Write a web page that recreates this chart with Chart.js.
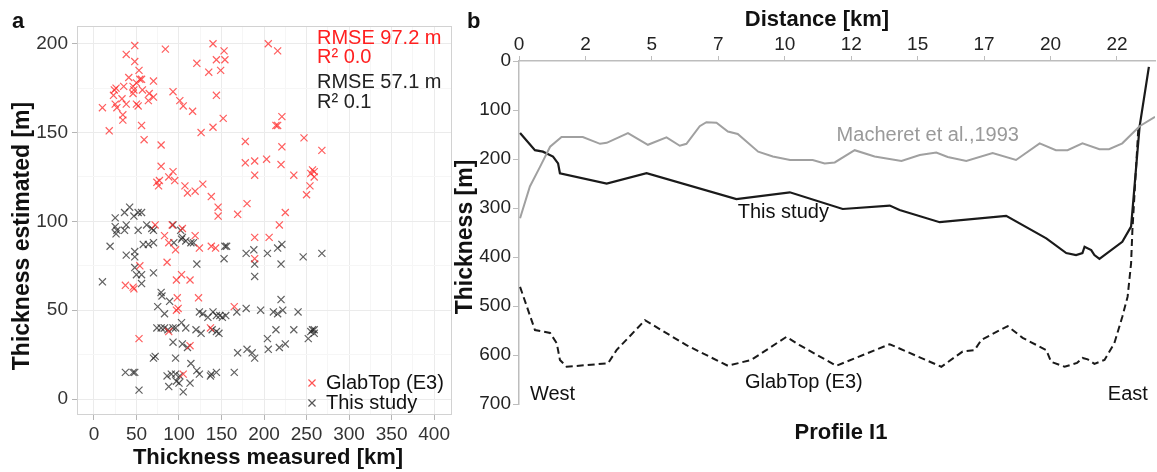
<!DOCTYPE html>
<html>
<head>
<meta charset="utf-8">
<script src="https://cdn.jsdelivr.net/npm/chart.js@4.4.0/dist/chart.umd.min.js"></script>
<style>
  html, body { margin: 0; padding: 0; background: #fff; }
  #wrap { position: relative; width: 1157px; height: 472px; overflow: hidden; }
  #chartA { position: absolute; left: 0; top: 0; }
  #chartB { position: absolute; left: 445px; top: 0; }
</style>
</head>
<body>
<div id="wrap">
  <canvas id="chartA" width="460" height="472"></canvas>
  <canvas id="chartB" width="712" height="472"></canvas>
</div>
<script>
// ---- panel a : scatter, estimated vs measured thickness ----
var glabTopMeasured = [10, 18, 24, 26, 23, 25, 27, 33, 35, 34, 34, 38, 38, 41, 46, 47, 46, 48, 48, 53, 50, 54, 56, 50, 52, 56, 59, 57, 64, 65,
  70, 70, 84, 79, 79, 74, 76, 77, 93, 101, 105, 88, 93, 95, 107, 110, 119, 116, 121, 126, 128, 135, 140, 144, 144, 140, 138, 149, 153, 154,
  152, 146, 146, 169, 178, 178, 189, 189, 180, 205, 216, 203, 214, 216, 221, 221, 220, 225, 218, 235, 247, 257, 259, 255, 259, 254, 250, 268,
  72, 83, 92, 104, 119, 189, 206, 88, 96, 124, 138, 143, 189, 54, 86, 37, 46, 47, 97, 103, 113, 98, 99, 97, 123, 165, 88, 137, 113, 53, 105];
var glabTopEstimated = [164, 151, 174, 175, 171, 166, 164, 169, 176, 160, 157, 166, 194, 181, 176, 174, 172, 199, 190, 185, 178, 180, 180, 166, 165, 154, 146, 174, 168, 172,
  170, 179, 197, 143, 131, 122, 120, 123, 173, 168, 165, 125, 128, 123, 120, 116, 117, 162, 189, 150, 121, 184, 200, 191, 171, 153, 114, 185, 196, 191,
  158, 108, 103, 104, 145, 133, 134, 126, 110, 200, 196, 135, 154, 154, 159, 142, 132, 105, 98, 126, 147, 129, 128, 127, 125, 120, 115, 140,
  98, 92, 98, 96, 92, 91, 91, 88, 84, 85, 86, 85, 79, 75, 77, 64, 63, 62, 67, 70, 67, 57, 51, 50, 57, 52, 38, 40, 30, 34, 14];

var thisStudyMeasured = [25, 25, 27, 26, 36, 42, 47, 52, 56, 38, 36, 52, 62, 68, 70, 93, 102, 104,
  19, 38, 48, 48, 48, 58, 64, 70, 50, 56, 56, 70, 10, 94, 103, 108, 114, 117, 121, 153, 154, 156, 179, 188, 189, 189, 204, 216, 221, 220, 246, 268,
  79, 80, 75, 89, 83, 74, 79, 83, 87, 93, 96, 103, 108, 93, 104, 110, 120, 126, 124, 128, 134, 140, 144, 148, 151, 155, 139, 144, 147,
  168, 179, 196, 220, 211, 216, 222, 240, 214, 204, 218, 225, 235, 252, 255, 259, 259, 257, 169, 180, 186, 189, 205, 70, 72, 96,
  37, 46, 48, 53, 86, 91, 96, 101, 97, 100, 88, 105, 114, 113, 121, 124, 137, 138, 144, 165];
var thisStudyEstimated = [102, 97, 95, 93, 105, 108, 103, 105, 105, 98, 95, 95, 98, 96, 95, 98, 95, 91,
  86, 81, 83, 80, 74, 87, 87, 88, 70, 70, 65, 71, 66, 88, 90, 89, 88, 88, 76, 79, 86, 86, 82, 84, 76, 69, 82, 85, 87, 76, 80, 82,
  60, 58, 52, 55, 48, 40, 40, 40, 39, 40, 40, 43, 40, 32, 31, 29, 39, 37, 49, 48, 46, 49, 47, 47, 46, 47, 39, 38, 37,
  49, 51, 50, 56, 49, 48, 50, 49, 39, 34, 29, 31, 39, 34, 38, 39, 37, 39, 26, 28, 26, 23, 28, 23, 24, 23,
  15, 15, 15, 5, 13, 14, 14, 13, 10, 9, 7, 4, 20, 9, 16, 14, 13, 14, 15, 15];

var aXTicks = [0, 50, 100, 150, 200, 250, 300, 350, 400];
var aYTicks = [0, 50, 100, 150, 200];

// ---- panel b : profile I1 ----
var macheretKm = [0.04, 0.41, 0.79, 1.17, 1.6, 2.4, 3.05, 3.3, 4.1, 4.85, 5.55, 6.05, 6.3, 6.8, 7.05, 7.43, 7.86, 8.23, 9.0, 9.55, 10.2,
  11.05, 11.5, 11.88, 12.63, 13.38, 14.39, 15.08, 15.7, 16.13, 16.83, 17.82, 18.7, 19.59, 20.2, 20.64, 21.2, 21.84, 22.2, 22.7, 23.35, 23.93];
var macheretM = [321, 256, 216, 175, 155, 155, 169, 167, 147, 171, 156, 173, 169, 133, 125, 126, 144, 149, 185, 195, 202,
  202, 209, 207, 182, 195, 204, 192, 187, 196, 204, 188, 202, 168, 182, 182, 168, 180, 180, 168, 133, 114];

var thisStudyKm = [0.04, 0.6, 0.9, 1.28, 1.47, 1.54, 3.3, 4.8, 8.18, 10.19, 12.18, 13.95, 14.32, 15.83, 18.33, 19.84, 20.59, 20.96,
  21.2, 21.28, 21.53, 21.65, 21.84, 22.7, 23.03, 23.35, 23.7];
var thisStudyM = [147, 182, 185, 195, 209, 229, 250, 229, 282, 268, 302, 295, 304, 329, 316, 362, 392, 396,
  392, 379, 386, 396, 404, 369, 338, 134, 12];

var glabTopKm = [0.04, 0.6, 1.17, 1.42, 1.54, 1.79, 3.35, 3.67, 4.74, 6.3, 7.86, 8.74, 10.06, 10.56, 11.94, 13.95, 15.89, 16.69, 17.14,
  17.4, 18.39, 18.95, 19.84, 20.02, 20.53, 21.0, 21.2, 21.4, 21.65, 22.03, 22.4, 22.7, 22.9, 23.03, 23.08, 23.3];
var glabTopM = [461, 549, 555, 576, 610, 624, 617, 590, 529, 580, 622, 610, 563, 580, 622, 578, 624, 593, 590,
  569, 541, 565, 590, 614, 624, 616, 606, 609, 618, 610, 576, 522, 481, 413, 345, 140];

var bXTicks = [0, 2.5, 5, 7.5, 10, 12.5, 15, 17.5, 20, 22.5];
var bXLabels = ['0', '2', '5', '7', '10', '12', '15', '17', '20', '22'];
var bYTicks = [0, 100, 200, 300, 400, 500, 600, 700];

var FONT = "'Liberation Sans', Arial, sans-serif";

function toPoints(xs, ys) {
  return xs.map(function (x, i) { return { x: x, y: ys[i] }; });
}

function withMinor(major) {
  var out = [];
  major.forEach(function (v, i) {
    out.push(v);
    if (i < major.length - 1) out.push(v + (major[i + 1] - v) / 2);
  });
  return out;
}

function isMajor(list, v) {
  return list.indexOf(v) !== -1;
}

function vText(ctx, text, x, y) {
  ctx.save();
  ctx.translate(x, y);
  ctx.rotate(-Math.PI / 2);
  ctx.textAlign = 'center';
  ctx.textBaseline = 'middle';
  ctx.fillText(text, 0, 0);
  ctx.restore();
}

// ---------- chart a ----------
var panelA = {
  id: 'panelA',
  beforeDatasetsDraw: function (chart) {
    var ctx = chart.ctx, a = chart.chartArea;
    ctx.save();
    ctx.strokeStyle = '#d2d2d2';
    ctx.lineWidth = 1;
    ctx.strokeRect(a.left + 0.5, a.top + 0.5, a.right - a.left - 1, a.bottom - a.top - 1);
    ctx.restore();
  },
  afterDraw: function (chart) {
    var ctx = chart.ctx;
    ctx.save();
    ctx.textBaseline = 'middle';
    ctx.textAlign = 'left';
    ctx.fillStyle = '#111';
    ctx.font = 'bold 22px ' + FONT;
    ctx.fillText('a', 12, 22);

    // axis titles
    ctx.textAlign = 'center';
    ctx.fillText('Thickness measured [km]', 268, 458);
    ctx.font = 'bold 23px ' + FONT;
    vText(ctx, 'Thickness estimated [m]', 23, 236);

    ctx.textAlign = 'left';
    ctx.font = '20px ' + FONT;
    ctx.fillStyle = '#ff2020';
    ctx.fillText('RMSE 97.2 m', 317, 38);
    ctx.fillText('R\u00b2 0.0', 317, 57);
    ctx.fillStyle = '#222';
    ctx.fillText('RMSE 57.1 m', 317, 82);
    ctx.fillText('R\u00b2 0.1', 317, 102);

    // legend
    ctx.lineWidth = 1.2;
    ctx.strokeStyle = 'rgba(255,40,40,0.8)';
    Chart.helpers.drawPoint(ctx, { pointStyle: 'crossRot', radius: 5, borderWidth: 1.2 }, 312, 383);
    ctx.strokeStyle = 'rgba(30,30,30,0.75)';
    Chart.helpers.drawPoint(ctx, { pointStyle: 'crossRot', radius: 5, borderWidth: 1.2 }, 312, 403);
    ctx.fillStyle = '#111';
    ctx.fillText('GlabTop (E3)', 326, 383);
    ctx.fillText('This study', 326, 403);
    ctx.restore();
  }
};

function gridColor(major) {
  return function (c) {
    if (!c.tick) return 'transparent';
    return isMajor(major, c.tick.value) ? '#ebebeb' : '#f6f6f6';
  };
}
function tickMarkColor(major) {
  return function (c) {
    if (!c.tick) return 'transparent';
    return isMajor(major, c.tick.value) ? '#b5b5b5' : 'transparent';
  };
}

new Chart(document.getElementById('chartA').getContext('2d'), {
  type: 'scatter',
  data: {
    datasets: [{
      label: 'GlabTop (E3)',
      data: toPoints(glabTopMeasured, glabTopEstimated),
      pointStyle: 'crossRot',
      pointRadius: 5,
      pointBorderWidth: 1.2,
      borderColor: 'rgba(255,40,40,0.75)',
      backgroundColor: 'rgba(255,40,40,0.75)'
    }, {
      label: 'This study',
      data: toPoints(thisStudyMeasured, thisStudyEstimated),
      pointStyle: 'crossRot',
      pointRadius: 5,
      pointBorderWidth: 1.2,
      borderColor: 'rgba(30,30,30,0.7)',
      backgroundColor: 'rgba(30,30,30,0.7)'
    }]
  },
  options: {
    responsive: false,
    animation: false,
    events: [],
    layout: { padding: { left: 0, top: 26, right: 8, bottom: 0 } },
    plugins: { legend: { display: false }, tooltip: { enabled: false } },
    scales: {
      x: {
        type: 'linear',
        min: -19.9,
        max: 421,
        afterBuildTicks: function (s) { s.ticks = withMinor(aXTicks).map(function (v) { return { value: v }; }); },
        afterFit: function (s) { s.height = 57; },
        border: { display: false },
        grid: { color: gridColor(aXTicks), tickColor: tickMarkColor(aXTicks), tickLength: 5 },
        ticks: {
          autoSkip: false, maxRotation: 0, padding: 3,
          color: '#333', font: { family: FONT, size: 19 },
          callback: function (v) { return isMajor(aXTicks, v) ? String(v) : ''; }
        }
      },
      y: {
        type: 'linear',
        min: -9,
        max: 210,
        afterBuildTicks: function (s) { s.ticks = withMinor(aYTicks).map(function (v) { return { value: v }; }); },
        afterFit: function (s) { s.width = 77; },
        border: { display: false },
        grid: { color: gridColor(aYTicks), tickColor: tickMarkColor(aYTicks), tickLength: 5 },
        ticks: {
          autoSkip: false, padding: 4,
          color: '#333', font: { family: FONT, size: 19 },
          callback: function (v) { return isMajor(aYTicks, v) ? String(v) : ''; }
        }
      }
    }
  },
  plugins: [panelA]
});

// ---------- chart b ----------
var panelB = {
  id: 'panelB',
  afterDraw: function (chart) {
    var ctx = chart.ctx;
    var sx = chart.scales.x, sy = chart.scales.y;
    ctx.save();
    ctx.textBaseline = 'middle';
    ctx.textAlign = 'left';
    ctx.fillStyle = '#111';
    ctx.font = 'bold 22px ' + FONT;
    ctx.fillText('b', 22, 22);

    ctx.textAlign = 'center';
    ctx.fillText('Distance [km]', 372, 20);
    ctx.fillText('Profile I1', 396, 433);
    ctx.font = 'bold 23px ' + FONT;
    vText(ctx, 'Thickness [m]', 21, 237);

    ctx.font = '20px ' + FONT;
    ctx.textAlign = 'left';
    ctx.fillStyle = '#9a9a9a';
    ctx.fillText('Macheret et al.,1993', sx.getPixelForValue(11.95), sy.getPixelForValue(153));
    ctx.fillStyle = '#111';
    ctx.fillText('This study', sx.getPixelForValue(8.23), sy.getPixelForValue(310));
    ctx.fillText('GlabTop (E3)', sx.getPixelForValue(8.5), sy.getPixelForValue(657));
    ctx.fillText('West', sx.getPixelForValue(0.41), sy.getPixelForValue(680));
    ctx.textAlign = 'right';
    ctx.fillText('East', sx.getPixelForValue(23.66), sy.getPixelForValue(680));
    ctx.restore();
  }
};

new Chart(document.getElementById('chartB').getContext('2d'), {
  type: 'line',
  data: {
    datasets: [{
      label: 'Macheret et al.,1993',
      data: toPoints(macheretKm, macheretM),
      borderColor: '#a0a0a0',
      borderWidth: 2,
      pointRadius: 0,
      tension: 0
    }, {
      label: 'This study',
      data: toPoints(thisStudyKm, thisStudyM),
      borderColor: '#1a1a1a',
      borderWidth: 2.2,
      pointRadius: 0,
      tension: 0
    }, {
      label: 'GlabTop (E3)',
      data: toPoints(glabTopKm, glabTopM),
      borderColor: '#1a1a1a',
      borderWidth: 2,
      borderDash: [7, 4],
      pointRadius: 0,
      tension: 0
    }]
  },
  options: {
    responsive: false,
    animation: false,
    events: [],
    layout: { padding: { left: 0, top: 0, right: 2, bottom: 68 } },
    plugins: { legend: { display: false }, tooltip: { enabled: false } },
    scales: {
      x: {
        type: 'linear',
        position: 'top',
        min: 0,
        max: 23.93,
        afterBuildTicks: function (s) { s.ticks = bXTicks.map(function (v) { return { value: v }; }); },
        afterFit: function (s) { s.height = 61; },
        border: { display: true, color: '#bdbdbd', width: 1.5 },
        grid: { drawOnChartArea: false, tickLength: 5, tickColor: '#bdbdbd' },
        ticks: {
          autoSkip: false, maxRotation: 0, padding: 0,
          color: '#222', font: { family: FONT, size: 19 },
          callback: function (v, i) { return bXLabels[i]; }
        }
      },
      y: {
        type: 'linear',
        reverse: true,
        min: 0,
        max: 700,
        afterBuildTicks: function (s) { s.ticks = bYTicks.map(function (v) { return { value: v }; }); },
        afterFit: function (s) { s.width = 74; },
        border: { display: true, color: '#bdbdbd', width: 1.5 },
        grid: { drawOnChartArea: false, tickLength: 6, tickColor: '#bdbdbd' },
        ticks: {
          autoSkip: false, padding: 2,
          color: '#222', font: { family: FONT, size: 19 }
        }
      }
    }
  },
  plugins: [panelB]
});
</script>
</body>
</html>
